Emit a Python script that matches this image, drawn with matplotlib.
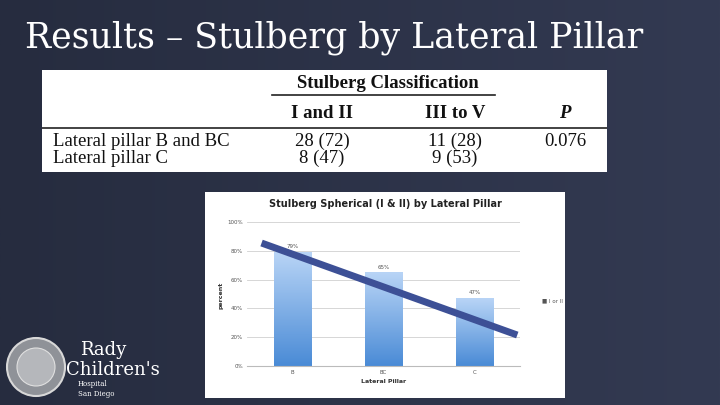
import numpy as np
import matplotlib.pyplot as plt
from matplotlib.patches import Circle

# Данні
pillars = ['B', 'BC', 'C']
percent = [79, 65, 47]
trend = [(-0.34, 85.4), (2.47, 21.5)]
table_rows = ['Lateral pillar B and BC', 'Lateral pillar C']
col_12 = ['28 (72)', '8 (47)']
col_35 = ['11 (28)', '9 (53)']
p_vals = ['0.076', '']

W, H = 720, 405
fig = plt.figure(figsize=(7.2, 4.05), dpi=100)


def box(x0, y0, x1, y1):
    # прямокутник в пікселях (верх-ліво)
    return [x0 / W, 1 - y1 / H, (x1 - x0) / W, (y1 - y0) / H]


# Фон слайда (координати в пікселях)
bg = fig.add_axes([0, 0, 1, 1])
grad = np.linspace(0, 1, 256).reshape(1, -1)
bg.imshow(grad, aspect='auto', extent=[0, W, H, 0],
          cmap=plt.matplotlib.colors.LinearSegmentedColormap.from_list('b', ['#262c3f', '#333a52']))
bg.set_xlim(0, W)
bg.set_ylim(H, 0)
bg.axis('off')
bg.text(25, 38, 'Results – Stulberg by Lateral Pillar', color='white',
        fontsize=25, family='DejaVu Serif', va='center')

# Логотип
bg.add_patch(Circle((36, 367), 29, facecolor='#8f9298', edgecolor='#d8d8d8', lw=1.5))
bg.add_patch(Circle((36, 367), 19, facecolor='#b5b7bb', edgecolor='#e0e0e0', lw=0.8))
bg.text(80, 350, 'Rady', color='white', family='DejaVu Serif', fontsize=13, va='center')
bg.text(66, 370, "Children's", color='white', family='DejaVu Serif', fontsize=13, va='center')
bg.text(78, 384, 'Hospital', color='white', family='DejaVu Serif', fontsize=5, va='center')
bg.text(78, 394, 'San Diego', color='white', family='DejaVu Serif', fontsize=5, va='center')

# Таблиця
tb = fig.add_axes(box(42, 70, 607, 172))
tb.set_xlim(42, 607)
tb.set_ylim(172, 70)
tb.set_facecolor('white')
tb.set_xticks([])
tb.set_yticks([])
for s in tb.spines.values():
    s.set_visible(False)
f = dict(family='Liberation Serif', color='#111111', fontsize=13.5)
tb.text(388, 83, 'Stulberg Classification', ha='center', va='center', weight='bold', **f)
tb.plot([272, 495], [95, 95], color='#222222', lw=1.2)
tb.text(322, 113, 'I and II', ha='center', va='center', weight='bold', **f)
tb.text(455, 113, 'III to V', ha='center', va='center', weight='bold', **f)
tb.text(565, 113, 'P', ha='center', va='center', weight='bold', style='italic', **f)
tb.plot([42, 607], [128, 128], color='#222222', lw=1.2)
for i, r in enumerate(table_rows):
    yy = 141 + i * 17
    tb.text(53, yy, r, va='center', **f)
    tb.text(322, yy, col_12[i], ha='center', va='center', **f)
    tb.text(455, yy, col_35[i], ha='center', va='center', **f)
    tb.text(565, yy, p_vals[i], ha='center', va='center', **f)

# Графік
cb = fig.add_axes(box(205, 192, 565, 398))
cb.set_facecolor('white')
cb.set_xticks([])
cb.set_yticks([])
for s in cb.spines.values():
    s.set_visible(False)
cb.text(0.5, 0.94, 'Stulberg Spherical (I & II) by Lateral Pillar', transform=cb.transAxes,
        ha='center', va='center', fontsize=7, weight='bold', color='#222222')
cb.text(0.935, 0.47, '■ I or II', transform=cb.transAxes, fontsize=4, color='#555555', va='center')
cb.text(0.045, 0.50, 'percent', transform=cb.transAxes, rotation=90, fontsize=4.5,
        weight='bold', color='#333333', va='center', ha='center')

ax = fig.add_axes(box(247, 222, 520, 366))
ax.set_xlim(-0.5, 2.5)
ax.set_ylim(0, 100)
ax.set_yticks(range(0, 101, 20))
ax.set_yticklabels([f'{v}%' for v in range(0, 101, 20)], fontsize=4, color='#555555')
ax.set_xticks(range(len(pillars)))
ax.set_xticklabels(pillars, fontsize=4, color='#555555')
ax.set_xlabel('Lateral Pillar', fontsize=4.5, weight='bold', color='#333333', labelpad=3)
ax.tick_params(length=0, pad=3)
ax.grid(axis='y', color='#d0d0d0', lw=0.6)
ax.set_axisbelow(True)
for s in ['top', 'right', 'left']:
    ax.spines[s].set_visible(False)
ax.spines['bottom'].set_color('#bbbbbb')

cmap = plt.matplotlib.colors.LinearSegmentedColormap.from_list('bar', ['#4a8bd6', '#b8d4f6'])
vgrad = np.linspace(0, 1, 100).reshape(-1, 1)
bars = ax.bar(range(len(pillars)), percent, width=0.41, color='none', zorder=2)
for b, v in zip(bars, percent):
    x0 = b.get_x()
    im = ax.imshow(vgrad, aspect='auto', cmap=cmap, origin='lower',
                   extent=[x0, x0 + b.get_width(), 0, v], zorder=2)
    im.set_clip_path(b)
    ax.text(b.get_x() + b.get_width() / 2, v + 2, f'{v}%', ha='center', va='bottom',
            fontsize=4, color='#555555', zorder=3)
ax.set_xlim(-0.5, 2.5)
ax.set_ylim(0, 100)

tx, ty = zip(*trend)
ax.plot(tx, ty, color='#3d5096', lw=5, solid_capstyle='butt', zorder=4, clip_on=False)

fig.savefig('out.png', dpi=100)
